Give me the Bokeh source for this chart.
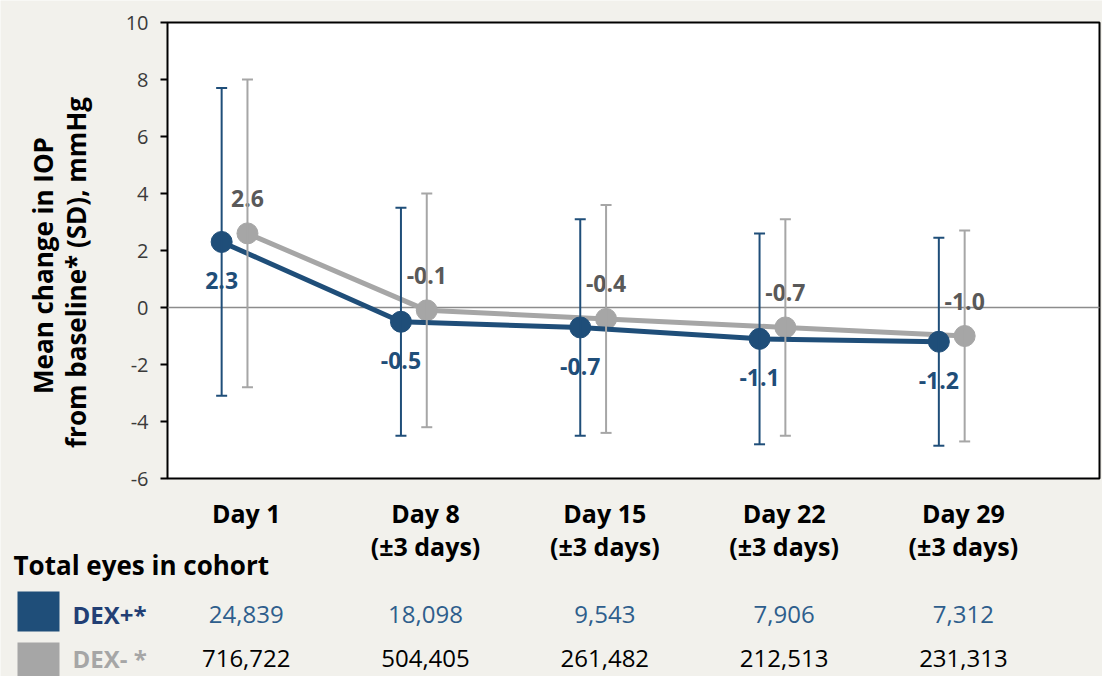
import math
from bokeh.plotting import figure
from bokeh.models import Range1d, ColumnDataSource, Whisker, TeeHead
from bokeh.core.properties import value
from bokeh.embed import file_html
from bokeh.resources import INLINE

# ---------------- data ----------------
days = ["Day 1", "Day 8", "Day 15", "Day 22", "Day 29"]
day_sub = ["", "(±3 days)", "(±3 days)", "(±3 days)", "(±3 days)"]
dex_pos_mean = [2.3, -0.5, -0.7, -1.1, -1.2]
dex_pos_sd = [5.4, 4.0, 3.8, 3.7, 3.65]
dex_neg_mean = [2.6, -0.1, -0.4, -0.7, -1.0]
dex_neg_sd = [5.4, 4.1, 4.0, 3.8, 3.7]
dex_pos_n = [24839, 18098, 9543, 7906, 7312]
dex_neg_n = [716722, 504405, 261482, 212513, 231313]
y_ticks = [-6, -4, -2, 0, 2, 4, 6, 8, 10]
series_names = ["DEX+*", "DEX- *"]
y_title = ["Mean change in IOP", "from baseline* (SD), mmHg"]
table_title = "Total eyes in cohort"

# ---------------- style / layout ----------------
BG = "#F2F1EC"
BLUE = "#1F4E79"
GRAY = "#A6A6A6"
F = value("Open Sans")

W, H = 1102, 676
ORG = 0                                # page px of the canvas origin
FL, FR, FT, FB = 167, 1099, 22, 478   # plot-area edges in page px
X0, X1 = -0.374, 4.824                 # category units across the plot area
Y0, Y1 = -6, 10
OFF = 0.072
PXU = (FB - FT) / (Y1 - Y0)


def dx(px):
    return X0 + (px - FL) / (FR - FL) * (X1 - X0)


def dy(py):
    return Y1 - (py - FT) / (FB - FT) * (Y1 - Y0)


p = figure(width=W, height=H, x_range=Range1d(dx(ORG), dx(ORG + W)),
           y_range=Range1d(dy(ORG + H), dy(ORG)), x_axis_type=None, y_axis_type=None,
           output_backend="svg", toolbar_location=None, min_border=0)
p.min_border_left = p.min_border_right = p.min_border_top = p.min_border_bottom = 0
p.background_fill_color = BG
p.border_fill_color = BG
p.outline_line_color = None
p.xgrid.visible = False
p.ygrid.visible = False

# plot area
p.quad(left=[X0], right=[X1], bottom=[Y0], top=[Y1], fill_color="white",
       line_color="black", line_width=2)
# zero line
p.segment(x0=[X0], x1=[X1], y0=[0], y1=[0], line_color="#8C8C8C", line_width=1.5)
# y ticks + labels
p.segment(x0=[dx(160)] * len(y_ticks), x1=[X0] * len(y_ticks), y0=y_ticks, y1=y_ticks,
          line_color="black", line_width=2)
p.text(x=[dx(148)] * len(y_ticks), y=y_ticks, text=[str(t) for t in y_ticks],
       text_align="right", text_baseline="middle", text_font=F,
       text_font_size="20px", text_color="#3A3A3A")


def make_src(means, sds, shift_px, off):
    return ColumnDataSource(dict(
        x=[i + off for i in range(len(means))],
        y=means,
        upper=[m + s for m, s in zip(means, sds)],
        lower=[m - s for m, s in zip(means, sds)],
        label=[f"{m:.1f}" for m in means],
        ly=[m + shift_px / PXU for m in means],
    ))


src_neg = make_src(dex_neg_mean, dex_neg_sd, 35, OFF)
src_pos = make_src(dex_pos_mean, dex_pos_sd, -39, -OFF)

for src, col in ((src_neg, GRAY), (src_pos, BLUE)):
    p.add_layout(Whisker(source=src, base="x", upper="upper", lower="lower",
                         line_color=col, line_width=2, level="glyph",
                         upper_head=TeeHead(size=11, line_color=col, line_width=2),
                         lower_head=TeeHead(size=11, line_color=col, line_width=2)))

for src, col in ((src_neg, GRAY), (src_pos, BLUE)):
    p.line("x", "y", source=src, line_color=col, line_width=5)
    p.scatter("x", "y", source=src, size=21, fill_color=col, line_color=col)

p.text("x", "ly", "label", source=src_neg, text_align="center", text_baseline="middle",
       text_font=F, text_font_size="23px", text_font_style="bold", text_color="#595959")
p.text("x", "ly", "label", source=src_pos, text_align="center", text_baseline="middle",
       text_font=F, text_font_size="23px", text_font_style="bold", text_color=BLUE)

# category labels
cx = [i + 0.065 for i in range(len(days))]
p.text(x=cx, y=[dy(512)] * len(days), text=days, text_align="center",
       text_baseline="middle", text_font=F, text_font_size="25px",
       text_font_style="bold", text_color="black")
p.text(x=cx[1:], y=[dy(545)] * 4, text=day_sub[1:], text_align="center",
       text_baseline="middle", text_font=F, text_font_size="25px",
       text_font_style="bold", text_color="black")

# y-axis title
p.text(x=[dx(42), dx(75)], y=[dy(265), dy(272)], text=y_title, angle=math.pi / 2,
       text_align="center", text_baseline="middle", text_font=F,
       text_font_size="26px", text_font_style="bold", text_color="black")

# table
p.text(x=[dx(13)], y=[dy(564)], text=[table_title], text_align="left",
       text_baseline="middle", text_font=F, text_font_size="26px",
       text_font_style="bold", text_color="black")
row_y = [dy(614), dy(658)]
p.quad(left=[dx(17), dx(17)], right=[dx(59), dx(59)], top=[dy(591), dy(642)],
       bottom=[dy(631), dy(700)], fill_color=[BLUE, GRAY], line_color=None)
p.text(x=[dx(72), dx(72)], y=row_y, text=series_names, text_align="left",
       text_baseline="middle", text_font=F, text_font_size="24px",
       text_font_style="bold", text_color=["#223F74", GRAY])
p.text(x=cx, y=[row_y[0]] * 5, text=[f"{n:,}" for n in dex_pos_n],
       text_align="center", text_baseline="middle", text_font=F,
       text_font_size="24px", text_color="#2E5E8C")
p.text(x=cx, y=[row_y[1]] * 5, text=[f"{n:,}" for n in dex_neg_n],
       text_align="center", text_baseline="middle", text_font=F,
       text_font_size="24px", text_color="black")

open("out.html", "w").write(file_html(p, INLINE))
